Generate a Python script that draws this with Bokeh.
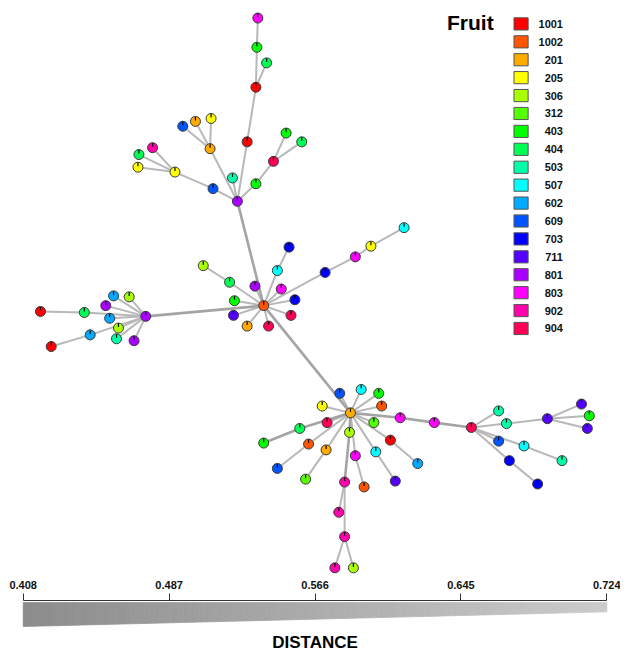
import numpy as np
from bokeh.plotting import figure
from bokeh.layouts import column
from bokeh.models import Range1d, LinearAxis, FixedTicker
from bokeh.core.properties import value
from bokeh.embed import file_html
from bokeh.resources import INLINE

# ---------------- data ----------------
categories = ["1001", "1002", "201", "205", "306", "312", "403", "404", "503",
              "507", "602", "609", "703", "711", "801", "803", "902", "904"]
palette = ["#FF0000", "#FF5500", "#FFAA00", "#FFFF00", "#AAFF00", "#55FF00",
           "#00FF00", "#00FF55", "#00FFAA", "#00FFFF", "#00AAFF", "#0055FF",
           "#0000FF", "#5500FF", "#AA00FF", "#FF00FF", "#FF00AA", "#FF0055"]

# network layout coordinates
node_x = [243, 218, 179, 156, 142, 141, 215, 187, 200, 216, 238, 253, 262, 263, 264, 273, 262, 280, 293, 309,
          270, 235, 208, 261, 284, 296, 288, 333, 364, 380, 414, 240, 239, 253, 275, 298, 302,
          149, 86, 41, 92, 52, 116, 132, 108, 112, 121, 119, 137,
          359, 348, 370, 388, 391, 330, 410, 445, 335, 383, 358, 353, 347, 353, 343, 362, 307, 270, 316, 284,
          334, 313, 400, 428, 385, 405, 364, 373,
          483, 511, 519, 561, 596, 604, 602, 511, 537, 576, 522, 551]
node_y = [206, 193, 176, 151, 158, 171, 152, 129, 124, 121, 182, 145, 89, 48, 18, 64, 188, 165, 136, 145,
          313, 289, 272, 293, 277, 253, 296, 279, 263, 252, 233, 308, 323, 334, 334, 323, 307,
          324, 320, 319, 343, 355, 303, 304, 313, 326, 336, 347, 349,
          423, 403, 399, 403, 416, 416, 428, 433, 433, 433, 443, 494, 525, 550, 582, 582, 439, 454, 455, 480,
          461, 491, 451, 475, 463, 493, 467, 499,
          438, 421, 434, 429, 414, 426, 439, 452, 457, 472, 472, 496]
node_cat = ["801", "609", "205", "902", "404", "205", "201", "609", "201", "205", "503", "1001", "1001", "403",
            "803", "404", "403", "904", "403", "404",
            "1002", "404", "306", "801", "507", "703", "803", "703", "803", "205", "507", "403", "711", "201",
            "904", "904", "703",
            "801", "404", "1001", "602", "1001", "602", "306", "801", "602", "306", "503", "801",
            "201", "609", "507", "403", "1002", "205", "803", "803", "904", "312", "306", "902", "902", "902",
            "902", "306", "404", "403", "1002", "609", "201", "312", "1001", "602", "507", "711", "803", "1002",
            "904", "503", "503", "711", "711", "403", "711", "609", "507", "503", "703", "703"]

edge_src = [0, 1, 2, 2, 2, 0, 6, 6, 6, 0, 0, 11, 12, 13, 12, 0, 16, 17, 17,
            0, 20, 21, 20, 20, 24, 20, 20, 27, 28, 29, 20, 20, 20, 20, 20, 20,
            20, 37, 38, 37, 40, 37, 37, 37, 37, 37, 37, 37,
            20, 49, 49, 49, 49, 49, 49, 55, 49, 49, 49, 59, 60, 60, 62, 62, 49, 65, 49, 67, 49, 69,
            49, 71, 49, 73, 49, 75,
            56, 77, 77, 79, 80, 80, 80, 77, 77, 85, 77, 87]
edge_dst = [1, 2, 3, 4, 5, 6, 7, 8, 9, 10, 11, 12, 13, 14, 15, 16, 17, 18, 19,
            20, 21, 22, 23, 24, 25, 26, 27, 28, 29, 30, 31, 32, 33, 34, 35, 36,
            37, 38, 39, 40, 41, 42, 43, 44, 45, 46, 47, 48,
            49, 50, 51, 52, 53, 54, 55, 56, 57, 58, 59, 60, 61, 62, 63, 64, 65, 66, 67, 68, 69, 70,
            71, 72, 73, 74, 75, 76,
            77, 78, 79, 80, 81, 82, 83, 84, 85, 86, 87, 88]
# edges with the heaviest strokes
heavy_edges = [(0, 20), (20, 37), (20, 49), (49, 55), (55, 56), (56, 77), (49, 65), (65, 66), (49, 59), (59, 60)]

# distance scale bar
dist_ticks = [0.408, 0.487, 0.566, 0.645, 0.724]
dist_labels = ["0.408", "0.487", "0.566", "0.645", "0.724"]

# ---------------- layout ----------------
IMG_W, IMG_H = 636, 671
W = 620
S = W / IMG_W
HA = 575
HB = 80
FONT = value("Liberation Sans")

color_of = dict(zip(categories, palette))

pa = figure(width=W, height=HA, x_range=Range1d(0, IMG_W), y_range=Range1d(HA / S, 0),
            output_backend="svg", toolbar_location=None,
            x_axis_location=None, y_axis_location=None, min_border=0)
pa.outline_line_color = None
pa.grid.visible = False
pa.background_fill_color = "white"

heavy = set(heavy_edges)
lx, ly, hx, hy = [], [], [], []
for a, b in zip(edge_src, edge_dst):
    xs = [node_x[a], node_x[b]]
    ys = [node_y[a], node_y[b]]
    if (a, b) in heavy:
        hx.append(xs); hy.append(ys)
    else:
        lx.append(xs); ly.append(ys)
pa.multi_line(lx, ly, line_color="#B8B8B8", line_width=2)
pa.multi_line(hx, hy, line_color="#A4A4A4", line_width=2.6)

node_colors = [color_of[c] for c in node_cat]
pa.scatter(node_x, node_y, size=10, fill_color=node_colors, line_color="#3A3A3A", line_width=1)
r = 4.6
pa.segment(x0=node_x, y0=[y - 1.0 for y in node_y], x1=node_x, y1=[y - r for y in node_y],
           line_color="black", line_width=1.2)

# legend
leg_y = [24 + i * 18.38 for i in range(len(categories))]
pa.text(x=[458], y=[23], text=["Fruit"], text_font=FONT, text_font_style="bold",
        text_font_size="21px", text_align="left", text_baseline="middle", text_color="black")
pa.rect(x=[534] * len(categories), y=leg_y, width=14.5, height=12.5,
        fill_color=palette, line_color="#555555", line_width=1)
pa.text(x=[577] * len(categories), y=leg_y, text=categories, text_font=FONT, text_font_style="bold",
        text_font_size="11px", text_align="right", text_baseline="middle", text_color="#111111")

# ---------------- distance scale ----------------
x_img0, x_img1 = 23.3, 622.0
d0, d1 = dist_ticks[0], dist_ticks[-1]
per_px = (d1 - d0) / (x_img1 - x_img0)
BT = 25
y_top = 590 + BT / S
pb = figure(width=W, height=HB,
            x_range=Range1d(d0 - x_img0 * per_px, d0 + (IMG_W - x_img0) * per_px),
            y_range=Range1d(y_top + (HB - BT) / S, y_top),
            output_backend="svg", toolbar_location=None,
            x_axis_location=None, y_axis_location=None,
            min_border_top=BT, min_border_left=0, min_border_right=0, min_border_bottom=0)
pb.outline_line_color = None
pb.grid.visible = False

ax = LinearAxis(ticker=FixedTicker(ticks=dist_ticks), bounds=(d0, d1),
                major_label_overrides={t: l for t, l in zip(dist_ticks, dist_labels)})
ax.axis_line_color = "#333333"
ax.axis_line_width = 1.2
ax.major_tick_line_color = "#333333"
ax.major_tick_in = 0
ax.major_tick_out = 7
ax.minor_tick_line_color = None
ax.major_label_standoff = 5
ax.major_label_text_font = "Liberation Sans"
ax.major_label_text_font_style = "bold"
ax.major_label_text_font_size = "11px"
ax.major_label_text_color = "#111111"
pb.add_layout(ax, "above")

# gradient wedge
n = 120
edges_d = np.linspace(d0, d1, n + 1)
top_y = 617.8
bot_l, bot_r = 642.3, 627.3
c0, c1 = np.array([0x8C, 0x8C, 0x8C]), np.array([0xCC, 0xCC, 0xCC])
pxs, pys, pcs = [], [], []
for i in range(n):
    a, b = edges_d[i], edges_d[i + 1]
    fa = (a - d0) / (d1 - d0)
    fb = (b - d0) / (d1 - d0)
    ba = bot_l + (bot_r - bot_l) * fa
    bb = bot_l + (bot_r - bot_l) * fb
    pxs.append([a, b, b, a])
    pys.append([top_y, top_y, bb, ba])
    c = (c0 + (c1 - c0) * (fa + fb) / 2).astype(int)
    pcs.append("#%02x%02x%02x" % tuple(c))
pb.patches(pxs, pys, fill_color=pcs, line_color=pcs, line_width=0.8)

pb.text(x=[(d0 + d1) / 2], y=[658.5], text=["DISTANCE"], text_font=FONT, text_font_style="bold",
        text_font_size="17px", text_align="center", text_baseline="middle", text_color="black")

layout = column(pa, pb, spacing=0)
open("out.html", "w").write(file_html(layout, INLINE))
